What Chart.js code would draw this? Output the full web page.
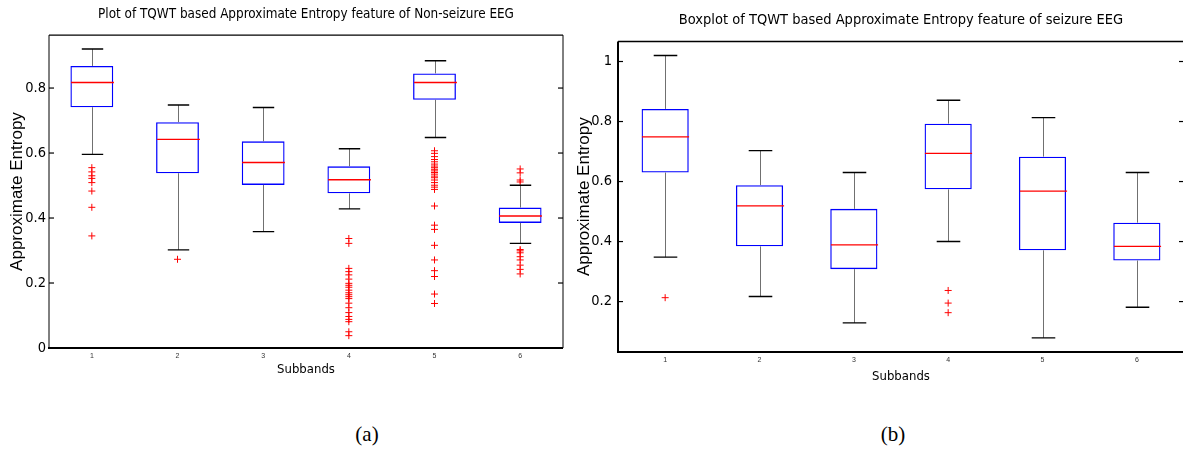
<!DOCTYPE html>
<html>
<head>
<meta charset="utf-8">
<script src="https://cdn.jsdelivr.net/npm/chart.js@4"></script>
<style>
  body { margin: 0; width: 1183px; height: 453px; overflow: hidden; background: #fff; position: relative; }
  canvas { position: absolute; top: 0; }
  #chart-a { left: 0; }
  #chart-b { left: 560px; }
  .cap { position: absolute; top: 422px; width: 60px; text-align: center;
         font: 21px 'Liberation Serif', 'Times New Roman', serif; color: #000; }
</style>
</head>
<body>
<canvas id="chart-a" width="600" height="390"></canvas>
<canvas id="chart-b" width="640" height="390"></canvas>
<div class="cap" style="left:337px">(a)</div>
<div class="cap" style="left:863px">(b)</div>
<script>
// subbands on the x axis
const subbands = ['1', '2', '3', '4', '5', '6'];

// (a) non-seizure EEG
const nsTicks = [0, 0.2, 0.4, 0.6, 0.8];
const nsUpper  = [0.920, 0.748, 0.740, 0.613, 0.884, 0.501];
const nsQ3     = [0.868, 0.695, 0.636, 0.559, 0.845, 0.432];
const nsMedian = [0.817, 0.642, 0.571, 0.518, 0.817, 0.406];
const nsQ1     = [0.741, 0.538, 0.502, 0.476, 0.764, 0.385];
const nsLower  = [0.596, 0.302, 0.358, 0.428, 0.648, 0.322];
const nsOutliers = [
  [0.555, 0.542, 0.530, 0.522, 0.509, 0.483, 0.433, 0.345],
  [0.273],
  [],
  [0.337, 0.322, 0.245, 0.235, 0.225, 0.212, 0.199, 0.193, 0.187, 0.178, 0.170, 0.164,
   0.158, 0.152, 0.138, 0.124, 0.109, 0.097, 0.088, 0.081, 0.050, 0.038],
  [0.607, 0.599, 0.589, 0.580, 0.573, 0.566, 0.560, 0.555, 0.550, 0.545, 0.540, 0.535,
   0.529, 0.524, 0.517, 0.509, 0.501, 0.495, 0.488, 0.437, 0.378, 0.365, 0.316, 0.271,
   0.238, 0.220, 0.166, 0.137],
  [0.551, 0.539, 0.517, 0.511, 0.303, 0.299, 0.293, 0.281, 0.271, 0.255, 0.242, 0.228]
];

// (b) seizure EEG
const szTicks = [0.2, 0.4, 0.6, 0.8, 1];
const szUpper  = [1.020, 0.703, 0.630, 0.871, 0.813, 0.630];
const szQ3     = [0.842, 0.588, 0.509, 0.793, 0.683, 0.463];
const szMedian = [0.749, 0.519, 0.389, 0.694, 0.568, 0.384];
const szQ1     = [0.630, 0.384, 0.308, 0.574, 0.371, 0.337];
const szLower  = [0.348, 0.217, 0.129, 0.400, 0.079, 0.181];
const szOutliers = [[0.213], [], [], [0.237, 0.195, 0.163], [], []];

const NARROW = "'Liberation Sans Narrow', 'Arial Narrow', 'DejaVu Sans Condensed', sans-serif";
const SANS = "'Liberation Sans', Arial, sans-serif";

// whiskers, caps, medians, frame and inward ticks
const boxLines = {
  id: 'boxLines',
  afterDatasetsDraw(chart, args, opts) {
    const {ctx, scales: {x, y}} = chart;
    const unit = x.getPixelForValue(2) - x.getPixelForValue(1);
    ctx.save();
    for (let i = 0; i < opts.med.length; i++) {
      const cx = Math.round(x.getPixelForValue(i + 1)) + 0.5;
      ctx.strokeStyle = '#707070';
      ctx.lineWidth = 1;
      ctx.beginPath();
      ctx.moveTo(cx, y.getPixelForValue(opts.hi[i]));
      ctx.lineTo(cx, y.getPixelForValue(opts.q3[i]));
      ctx.moveTo(cx, y.getPixelForValue(opts.q1[i]));
      ctx.lineTo(cx, y.getPixelForValue(opts.lo[i]));
      ctx.stroke();
      ctx.strokeStyle = '#000';
      ctx.lineWidth = 1.4;
      ctx.beginPath();
      for (const v of [opts.hi[i], opts.lo[i]]) {
        const py = y.getPixelForValue(v);
        ctx.moveTo(cx - unit * 0.125, py);
        ctx.lineTo(cx + unit * 0.125, py);
      }
      ctx.stroke();
      ctx.strokeStyle = '#ff0000';
      ctx.lineWidth = 1.4;
      ctx.beginPath();
      const my = y.getPixelForValue(opts.med[i]);
      ctx.moveTo(cx - unit * 0.25, my);
      ctx.lineTo(cx + unit * 0.25, my);
      ctx.stroke();
    }
    ctx.restore();
  },
  afterDraw(chart, args, opts) {
    const {ctx, chartArea: a, scales: {y}} = chart;
    const f = opts.frame;
    ctx.save();
    ctx.strokeStyle = '#000';
    const line = (w, x1, y1, x2, y2) => {
      ctx.lineWidth = w;
      ctx.beginPath(); ctx.moveTo(x1, y1); ctx.lineTo(x2, y2); ctx.stroke();
    };
    line(f.top, a.left, a.top, a.right, a.top);
    line(f.right, a.right, a.top, a.right, a.bottom);
    line(f.bottom, a.left - 1, a.bottom, a.right, a.bottom);
    line(f.left, a.left, a.top, a.left, a.bottom);
    for (const t of y.ticks) {
      const py = y.getPixelForValue(t.value);
      line(1.2, a.left, py, a.left + 5, py);
      line(1.2, a.right - 5, py, a.right, py);
    }
    ctx.restore();
  }
};

function makeChart(id, cfg) {
  const boxes = subbands.map((s, i) => ({x: i + 1, y: [cfg.q1[i], cfg.q3[i]]}));
  const outs = cfg.outliers.flatMap((arr, i) => arr.map(v => ({x: i + 1, y: v})));
  return new Chart(document.getElementById(id), {
    type: 'scatter',
    data: {
      datasets: [
        {
          type: 'bar',
          data: boxes,
          backgroundColor: 'rgba(0,0,0,0)',
          borderColor: '#0000ff',
          borderWidth: 1.3,
          borderSkipped: false,
          categoryPercentage: 0.5,
          barPercentage: 1
        },
        {
          type: 'scatter',
          data: outs,
          pointStyle: 'cross',
          pointRadius: 3.5,
          borderColor: '#ff0000',
          backgroundColor: '#ff0000',
          borderWidth: 1
        }
      ]
    },
    options: {
      responsive: false,
      devicePixelRatio: 1,
      animation: false,
      layout: {padding: {left: 0, right: cfg.padRight, top: 0, bottom: 0}},
      plugins: {
        legend: {display: false},
        tooltip: {enabled: false},
        title: {
          display: true,
          text: cfg.title,
          fullSize: false,
          color: '#000',
          font: {family: NARROW, size: cfg.titleSize, weight: 'normal'},
          padding: {top: cfg.titleTop, bottom: cfg.titleBottom}
        },
        boxLines: {hi: cfg.hi, q3: cfg.q3, med: cfg.med, q1: cfg.q1, lo: cfg.lo, frame: cfg.frame}
      },
      scales: {
        x: {
          type: 'linear',
          min: 0.5,
          max: 6.5,
          offset: false,
          afterBuildTicks: s => { s.ticks = subbands.map((_, i) => ({value: i + 1})); },
          afterFit: s => { s.height = cfg.xHeight; },
          grid: {display: false, drawTicks: false},
          border: {display: false},
          ticks: {
            color: '#333',
            font: {family: SANS, size: 7},
            padding: 4,
            maxRotation: 0,
            callback: v => subbands[v - 1]
          },
          title: {
            display: true,
            text: 'Subbands',
            color: '#000',
            font: {family: NARROW, size: 13},
            padding: {top: 0, bottom: cfg.xTitlePad}
          }
        },
        y: {
          min: cfg.yMin,
          max: cfg.yMax,
          afterBuildTicks: s => { s.ticks = cfg.ticks.map(v => ({value: v})); },
          afterFit: s => { s.width = cfg.yWidth; },
          grid: {display: false, drawTicks: false},
          border: {display: false},
          ticks: {
            color: '#000',
            font: {family: NARROW, size: 14.5},
            padding: cfg.tickPad,
            callback: v => String(v)
          },
          title: {
            display: true,
            text: 'Approximate Entropy',
            color: '#000',
            font: {family: SANS, size: 17},
            padding: {top: cfg.yTitlePad, bottom: 0}
          }
        }
      }
    },
    plugins: [boxLines]
  });
}

makeChart('chart-a', {
  title: 'Plot of TQWT based Approximate Entropy feature of Non-seizure EEG',
  hi: nsUpper, q3: nsQ3, med: nsMedian, q1: nsQ1, lo: nsLower, outliers: nsOutliers,
  ticks: nsTicks, yMin: 0, yMax: 0.963,
  padRight: 37, titleTop: 6, titleBottom: 13, titleSize: 13.4, xHeight: 42, xTitlePad: 13,
  yWidth: 49, tickPad: 3, yTitlePad: 7,
  frame: {top: 1.3, right: 1, bottom: 2, left: 1}
});

makeChart('chart-b', {
  title: 'Boxplot of TQWT based Approximate Entropy feature of seizure EEG',
  hi: szUpper, q3: szQ3, med: szMedian, q1: szQ1, lo: szLower, outliers: szOutliers,
  ticks: szTicks, yMin: 0.032, yMax: 1.067,
  padRight: 16, titleTop: 12, titleBottom: 12, titleSize: 14.5, xHeight: 38, xTitlePad: 6,
  yWidth: 58, tickPad: 6, yTitlePad: 14,
  frame: {top: 1.5, right: 1, bottom: 2, left: 2}
});
</script>
</body>
</html>
